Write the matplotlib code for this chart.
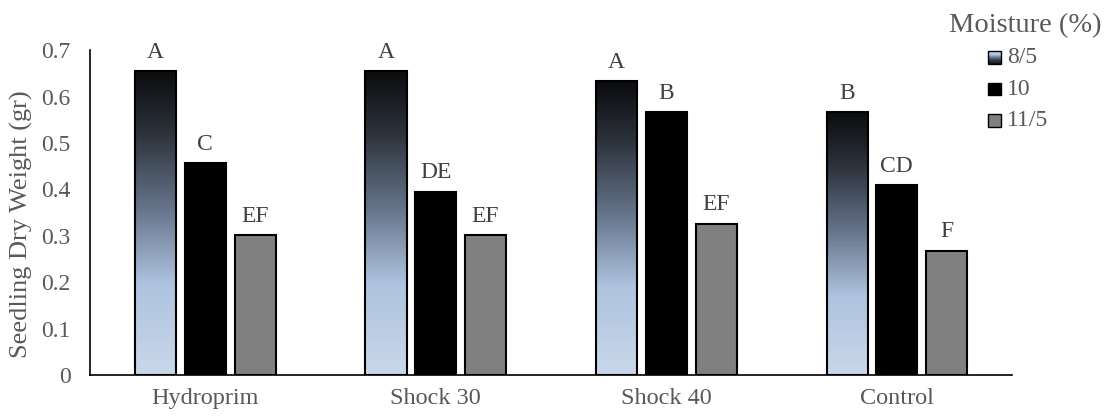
import numpy as np
import matplotlib.pyplot as plt
from matplotlib.colors import LinearSegmentedColormap
from matplotlib.patches import Rectangle
from matplotlib.legend_handler import HandlerBase

plt.rcParams['font.family'] = ['Liberation Serif', 'DejaVu Serif']

# Data
treatments = ['Hydroprim', 'Shock 30', 'Shock 40', 'Control']
moisture = ['8/5', '10', '11/5']
w_85 = [0.655, 0.655, 0.633, 0.566]
w_10 = [0.457, 0.395, 0.567, 0.409]
w_115 = [0.302, 0.302, 0.326, 0.268]
let_85 = ['A', 'A', 'A', 'B']
let_10 = ['C', 'DE', 'B', 'CD']
let_115 = ['EF', 'EF', 'EF', 'F']

grey = '#595959'
grad = LinearSegmentedColormap.from_list(
    'grad', [(0, '#c9d7ea'), (0.3, '#aec3de'), (0.55, '#65738a'),
             (0.8, '#2c323b'), (1, '#0b0c0e')])


class GradHandler(HandlerBase):
    def create_artists(self, legend, orig, xd, yd, w, h, fontsize, trans):
        s = min(w, h)
        x0 = xd + (w - s) / 2
        y0 = yd + (h - s) / 2
        n = 12
        arts = []
        for k in range(n):
            arts.append(Rectangle((x0, y0 + s * k / n), s, s / n,
                                  facecolor=grad(1 - (k + 0.5) / n),
                                  edgecolor='none', transform=trans))
        arts.append(Rectangle((x0, y0), s, s, facecolor='none',
                              edgecolor='black', lw=1, transform=trans))
        return arts


class BoxHandler(HandlerBase):
    def create_artists(self, legend, orig, xd, yd, w, h, fontsize, trans):
        s = min(w, h)
        x0 = xd + (w - s) / 2
        y0 = yd + (h - s) / 2
        return [Rectangle((x0, y0), s, s, facecolor=orig.get_facecolor(),
                          edgecolor='black', lw=1, transform=trans)]


fig = plt.figure(figsize=(11.07, 4.17), dpi=100)
ax = fig.add_axes([0.0813, 0.1007, 0.833, 0.779])

x = np.arange(len(treatments))
bw = 0.178
step = 0.216

b1 = ax.bar(x - step, w_85, bw, facecolor='none', edgecolor='black', lw=1.5, zorder=3)
b2 = ax.bar(x, w_10, bw, color='black', edgecolor='black', lw=1.5, zorder=3)
b3 = ax.bar(x + step, w_115, bw, color='#808080', edgecolor='black', lw=1.5, zorder=3)

# gradient fill inside first series
for r in b1:
    x0, y0 = r.get_x(), r.get_y()
    im = ax.imshow(np.linspace(1, 0, 200).reshape(-1, 1), cmap=grad, aspect='auto',
                   extent=[x0, x0 + r.get_width(), y0, y0 + r.get_height()],
                   vmin=0, vmax=1, zorder=2)
    im.set_clip_path(r)

for bars, labs in [(b1, let_85), (b2, let_10), (b3, let_115)]:
    for r, t in zip(bars, labs):
        ax.text(r.get_x() + r.get_width() / 2, r.get_height() + 0.018, t,
                ha='center', va='bottom', fontsize=17, color='#404040')

ax.set_xlim(-0.5, len(treatments) - 0.5)
ax.set_ylim(0, 0.7)
ax.set_yticks(np.arange(0, 0.71, 0.1))
ax.set_yticklabels(['0'] + [f'{v:.1f}' for v in np.arange(0.1, 0.71, 0.1)])
ax.set_xticks(x)
ax.set_xticklabels(treatments)
ax.tick_params(axis='y', length=0, labelsize=17, labelcolor=grey, pad=14)
ax.tick_params(axis='x', length=0, labelsize=17.5, labelcolor=grey, pad=9)
for s in ['top', 'right']:
    ax.spines[s].set_visible(False)
ax.spines['left'].set_linewidth(1.2)
ax.spines['bottom'].set_linewidth(1.2)

# y label placed a bit lower than axis centre, as in the original
fig.text(21 / 1107, 1 - 224 / 417, 'Seedling Dry Weight (gr)', rotation=90,
         ha='center', va='center', fontsize=19, color=grey)

fig.text(0.995, 1 - 26 / 417, 'Moisture (%)', ha='right', va='center', fontsize=20.5, color=grey)
leg = fig.legend([b1[0], b2[0], b3[0]], moisture,
                 loc='upper left', bbox_to_anchor=(988 / 1107, 1 - 47 / 417), frameon=False,
                 fontsize=17, handlelength=0.54, handleheight=0.54,
                 handletextpad=0.25, labelspacing=0.45, borderpad=0, borderaxespad=0,
                 handler_map={b1[0]: GradHandler(), b2[0]: BoxHandler(), b3[0]: BoxHandler()})
for t in leg.get_texts():
    t.set_color(grey)

fig.savefig('out.png', dpi=100)
